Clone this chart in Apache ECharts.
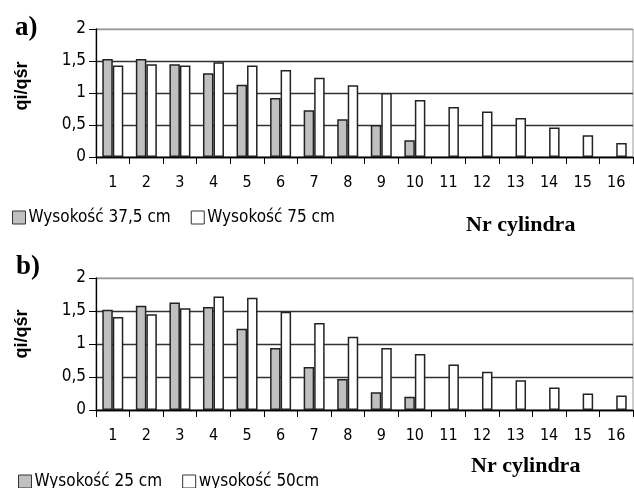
<!DOCTYPE html>
<html>
<head>
<meta charset="utf-8">
<script src="https://cdn.jsdelivr.net/npm/echarts@6/dist/echarts.min.js"></script>
<style>html,body{margin:0;padding:0;background:#fff}#c{width:634px;height:488px}</style>
</head>
<body>
<div id="c"></div>
<script>
const categories = ['1','2','3','4','5','6','7','8','9','10','11','12','13','14','15','16'];
const namesA = ['Wysokość 37,5 cm', 'Wysokość 75 cm'];
const namesB = ['Wysokość 25 cm', 'wysokość 50cm'];
const grayA = [1.53, 1.53, 1.45, 1.31, 1.13, 0.92, 0.73, 0.59, 0.50, 0.26];
const whiteA = [1.43, 1.45, 1.43, 1.48, 1.43, 1.36, 1.24, 1.12, 1.00, 0.89, 0.78, 0.71, 0.61, 0.46, 0.34, 0.22];
const grayB = [1.52, 1.58, 1.63, 1.56, 1.23, 0.94, 0.65, 0.47, 0.27, 0.20];
const whiteB = [1.41, 1.45, 1.54, 1.72, 1.70, 1.49, 1.32, 1.11, 0.94, 0.85, 0.69, 0.58, 0.45, 0.34, 0.25, 0.22];
const yTicks = {min: 0, max: 2, interval: 0.5};

const SANS = '"DejaVu Sans Condensed", "DejaVu Sans", sans-serif';
const chart = echarts.init(document.getElementById('c'), null, {renderer: 'canvas'});

function xAxis(gi) {
  return {
    type: 'category', gridIndex: gi, data: categories,
    axisLine: {lineStyle: {color: '#000', width: 1.3}},
    axisTick: {show: true, length: 7, alignWithLabel: false, lineStyle: {color: '#000'}},
    axisLabel: {color: '#000', fontFamily: SANS, fontSize: 16, margin: 18, interval: 0},
    splitLine: {show: false}
  };
}
function yAxis(gi) {
  return {
    type: 'value', gridIndex: gi, min: yTicks.min, max: yTicks.max, interval: yTicks.interval,
    axisLine: {show: true, lineStyle: {color: '#000', width: 1.3}},
    axisTick: {show: true, length: 7, lineStyle: {color: '#000'}},
    axisLabel: {color: '#000', fontFamily: SANS, fontSize: 17, margin: 10,
      formatter: v => String(v).replace('.', ',')},
    splitLine: {show: true, lineStyle: {color: ['#000', '#333', '#333', '#333', '#999'], width: 1.3}}
  };
}
const barStyleGray = {color: '#c0c0c0', borderColor: '#222', borderWidth: 1.5};
const barStyleWhite = {color: '#fff', borderColor: '#222', borderWidth: 1.5};
function bar(name, data, gi, style) {
  return {
    name, type: 'bar', data, xAxisIndex: gi, yAxisIndex: gi,
    barWidth: 10.5, barGap: '0%', itemStyle: style, silent: true, animation: false
  };
}
function legend(names, left, top) {
  return {
    data: names, left, top, padding: 0, orient: 'horizontal',
    icon: 'rect', itemWidth: 13, itemHeight: 13, itemGap: 20,
    textStyle: {fontFamily: SANS, fontSize: 17, color: '#000', padding: [0, 0, 0, -2]},
    itemStyle: {borderColor: '#333', borderWidth: 1},
    selectedMode: false
  };
}

chart.setOption({
  animation: false,
  backgroundColor: '#fff',
  grid: [
    {left: 96, top: 29, width: 537, height: 128, show: true, borderColor: '#999', borderWidth: 1, backgroundColor: 'transparent'},
    {left: 96, top: 278, width: 537, height: 132, show: true, borderColor: '#999', borderWidth: 1, backgroundColor: 'transparent'}
  ],
  xAxis: [xAxis(0), xAxis(1)],
  yAxis: [yAxis(0), yAxis(1)],
  legend: [legend(namesA, 12, 209), legend(namesB, 18, 473)],
  series: [
    bar(namesA[0], grayA, 0, barStyleGray),
    bar(namesA[1], whiteA, 0, barStyleWhite),
    bar(namesB[0], grayB, 1, barStyleGray),
    bar(namesB[1], whiteB, 1, barStyleWhite)
  ],
  graphic: [
    {type: 'text', left: 15, top: 15, style: {text: 'a)', font: 'bold 27px "Liberation Serif", "Times New Roman", serif', fill: '#000'}},
    {type: 'text', left: 16, top: 254, style: {text: 'b)', font: 'bold 27px "Liberation Serif", "Times New Roman", serif', fill: '#000'}},
    {type: 'text', x: 22, y: 86, rotation: Math.PI / 2, style: {text: 'qi/qśr', font: 'bold 18px "Liberation Sans", Arial, sans-serif', fill: '#000', align: 'center', verticalAlign: 'middle'}},
    {type: 'text', x: 22, y: 334, rotation: Math.PI / 2, style: {text: 'qi/qśr', font: 'bold 18px "Liberation Sans", Arial, sans-serif', fill: '#000', align: 'center', verticalAlign: 'middle'}},
    {type: 'text', left: 466, top: 214, style: {text: 'Nr cylindra', font: 'bold 22px "Liberation Serif", "Times New Roman", serif', fill: '#000'}},
    {type: 'text', left: 471, top: 455, style: {text: 'Nr cylindra', font: 'bold 22px "Liberation Serif", "Times New Roman", serif', fill: '#000'}}
  ]
});
</script>
</body>
</html>
